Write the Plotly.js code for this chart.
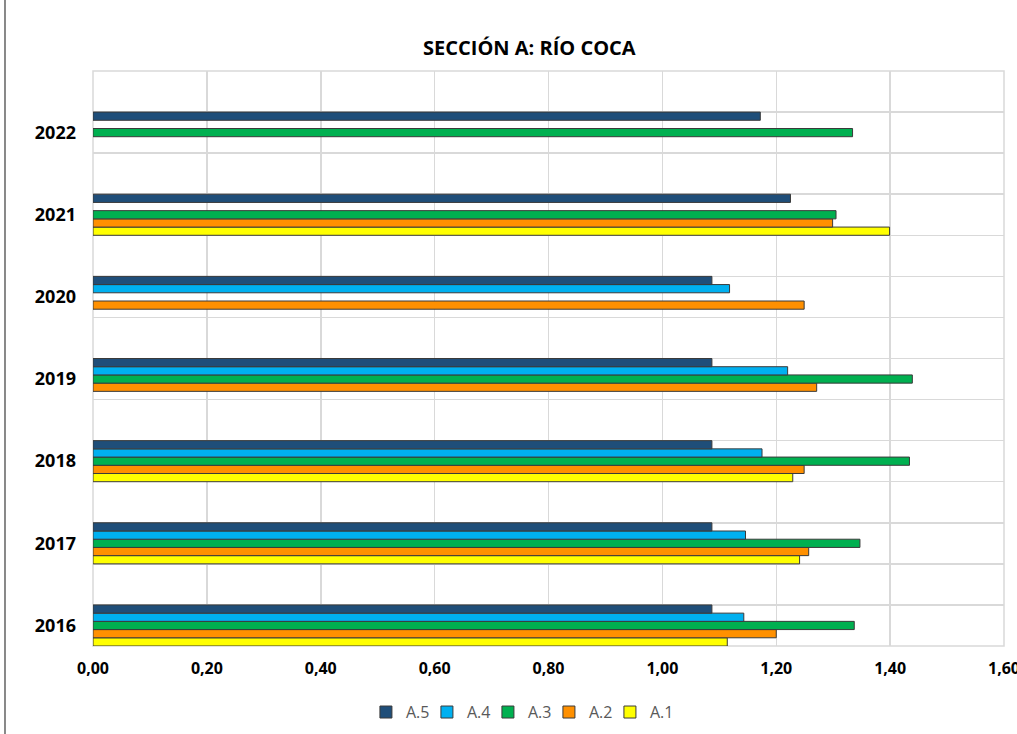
<!DOCTYPE html>
<html>
<head>
<meta charset="utf-8">
<script src="https://cdn.plot.ly/plotly-3.0.1.min.js"></script>
<style>html,body{margin:0;padding:0;background:#fff;}#chart{width:1017px;height:734px;}</style>
</head>
<body>
<div id="chart"></div>
<script>
const years = ['2016','2017','2018','2019','2020','2021','2022'];
const seriesNames = ['A.1','A.2','A.3','A.4','A.5'];
const seriesColors = ['#FFFF00','#FF9000','#00B050','#00B0F0','#1F4E79'];
const a1 = [1.114, 1.241, 1.229, null, null, 1.399, null];
const a2 = [1.200, 1.257, 1.249, 1.271, 1.249, 1.299, null];
const a3 = [1.337, 1.347, 1.434, 1.439, null, 1.305, 1.334];
const a4 = [1.143, 1.146, 1.175, 1.220, 1.118, null, null];
const a5 = [1.087, 1.087, 1.087, 1.087, 1.087, 1.225, 1.172];
const seriesValues = [a1, a2, a3, a4, a5];
const xTicks = [0, 0.2, 0.4, 0.6, 0.8, 1.0, 1.2, 1.4, 1.6];

const yPos = years.map((_, i) => i);
const gridPos = [];
years.forEach((_, i) => { gridPos.push(i - 0.25, i + 0.25); });

const traces = seriesValues.map((vals, k) => ({
  type: 'bar',
  orientation: 'h',
  name: seriesNames[k],
  x: vals,
  y: yPos,
  marker: {color: seriesColors[k], line: {color: '#3a3a3a', width: 1}},
  hoverinfo: 'x+name'
}));

const layout = {
  width: 1017,
  height: 734,
  margin: {l: 93, r: 13, t: 71, b: 88, autoexpand: false},
  paper_bgcolor: '#ffffff',
  plot_bgcolor: '#ffffff',
  barmode: 'group',
  bargap: 0.5,
  bargroupgap: 0,
  separators: ',.',
  font: {family: 'Open Sans, Liberation Sans, sans-serif', color: '#000'},
  title: {
    text: '<b>SECCIÓN A: RÍO COCA</b>',
    font: {size: 20, color: '#000', family: 'Open Sans, Liberation Sans, sans-serif'},
    x: 0.479, xref: 'paper', xanchor: 'center',
    y: 0.935, yref: 'container', yanchor: 'middle'
  },
  xaxis: {
    range: [0, 1.6],
    tickvals: xTicks,
    tickformat: '.2f',
    showgrid: true,
    gridcolor: '#d9d9d9',
    gridwidth: 1.5,
    zeroline: false,
    showline: false,
    ticks: '',
    ticklabelstandoff: 11,
    ticklabeloverflow: 'allow',
    tickfont: {size: 16, color: '#000', family: 'Open Sans, Liberation Sans, sans-serif', weight: 'bold'}
  },
  yaxis: {
    range: [-0.25, 6.75],
    tickvals: yPos,
    ticktext: years.map(y => '<b>' + y + '</b>'),
    tickfont: {size: 18, color: '#000', family: 'Open Sans, Liberation Sans, sans-serif'},
    showgrid: false,
    zeroline: false,
    showline: false,
    ticks: '',
    ticklabelstandoff: 16,
    minor: {tickvals: gridPos, showgrid: true, gridcolor: '#d9d9d9', gridwidth: 1.5, ticks: ''}
  },
  legend: {
    orientation: 'h',
    traceorder: 'reversed',
    x: 0.467, xanchor: 'center',
    y: -0.115, yanchor: 'middle',
    font: {size: 16, color: '#595959'},
    itemwidth: 30,
    entrywidth: 16,
    entrywidthmode: 'pixels',
    tracegroupgap: 0
  },
  shapes: [
    {type: 'rect', xref: 'paper', yref: 'paper', x0: 0, x1: 1, y0: 0, y1: 1, layer: 'below',
     line: {color: '#d9d9d9', width: 1.5}},
    {type: 'line', xref: 'paper', yref: 'paper', x0: -0.0966, x1: -0.0966, y0: -0.3, y1: 1.2,
     line: {color: '#3a3a3a', width: 1.2}}
  ],
  showlegend: true
};

Plotly.newPlot('chart', traces, layout, {displayModeBar: false, staticPlot: true});
</script>
</body>
</html>
